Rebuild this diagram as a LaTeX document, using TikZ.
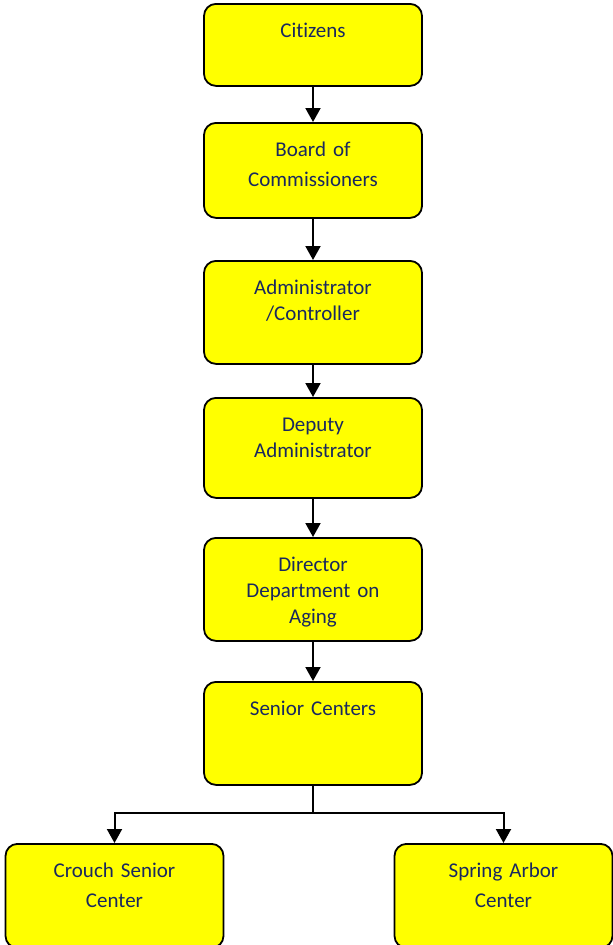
\documentclass[tikz,border=0pt]{standalone}
\usepackage{fontspec}
\setmainfont{Carlito}[Ligatures=NoCommon, WordSpace=0.8]
\usetikzlibrary{arrows.meta}
\definecolor{navytext}{RGB}{25,40,95}
\definecolor{boxyellow}{RGB}{255,255,0}
\tikzset{
  orgbox/.style={draw=black, line width=1.8pt, rounded corners=12pt, fill=boxyellow,
    text=navytext, text width=210pt, inner xsep=4pt, inner ysep=0pt, align=center,
    anchor=north, text height=33.5pt, text depth=#1,
    font=\fontsize{21}{26}\selectfont},
  link/.style={line width=2pt, -{Triangle[width=15pt,length=14pt]}}
}
\begin{document}
\begin{tikzpicture}[x=1pt,y=-1pt]

\clip (0,0) rectangle (613,945);
\fill[white] (0,0) rectangle (613,945);

\node[orgbox=48.5pt] (citizens) at (313,3) {Citizens};
\node[orgbox=61.5pt] (board) at (313,122) {Board of\\[4pt]Commissioners};
\node[orgbox=69.5pt] (admin) at (313,260) {Administrator\\/Controller};
\node[orgbox=66.5pt] (deputy) at (313,397) {Deputy\\Administrator};
\node[orgbox=69.5pt] (director) at (313,537) {Director\\Department on\\Aging};
\node[orgbox=69.5pt] (senior) at (313,681) {Senior Centers};

\node[orgbox=70.5pt] (crouch) at (114.5,843) {Crouch Senior\\[4pt]Center};
\node[orgbox=70.5pt] (spring) at (503.5,843) {Spring Arbor\\[4pt]Center};

\draw[link] (citizens) -- (board);
\draw[link] (board) -- (admin);
\draw[link] (admin) -- (deputy);
\draw[link] (deputy) -- (director);
\draw[link] (director) -- (senior);

% split to the two centers
\coordinate (split) at (313,813);
\draw[line width=2pt] (senior.south) -- (split);
\draw[link] (split) -| (crouch.north);
\draw[link] (split) -| (spring.north);
\end{tikzpicture}
\end{document}
